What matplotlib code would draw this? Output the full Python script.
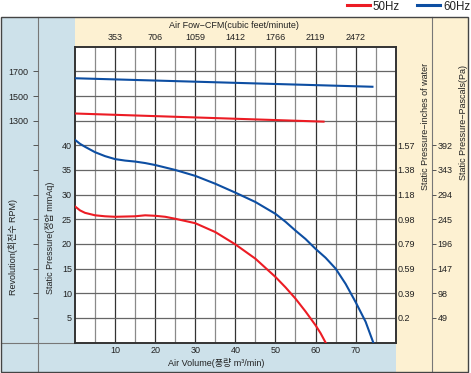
import matplotlib.pyplot as plt
from matplotlib.patches import Rectangle
from matplotlib.lines import Line2D

plt.rcParams['font.family'] = ['Liberation Sans', 'Noto Sans CJK KR']

# static pressure curves (mmAq) vs air volume (m3/min)
vol_50 = [0, 1.25, 2.5, 5, 7.5, 10, 15, 17.5, 20, 22.5, 25, 30, 35, 40, 45, 50,
          52.5, 55, 57.5, 60, 61.25, 62.5]
pres_50 = [27.6, 26.8, 26.3, 25.8, 25.6, 25.5, 25.6, 25.8, 25.7, 25.5, 25.1, 24.2, 22.4,
           19.9, 17.0, 13.3, 11.2, 8.9, 6.3, 3.5, 1.9, 0]
vol_60 = [0, 1.25, 2.5, 5, 7.5, 10, 12.5, 15, 17.5, 20, 25, 30, 35, 40, 45, 50, 52.5,
          55, 57.5, 60, 62.5, 65, 67.5, 70, 72.5, 74.4]
pres_60 = [41.1, 40.3, 39.7, 38.6, 37.8, 37.2, 36.9, 36.7, 36.4, 36.0, 35.0, 33.8, 32.2,
           30.4, 28.5, 26.1, 24.5, 22.7, 21.0, 19.0, 17.2, 15.0, 11.9, 8.2, 4.2, 0]

# revolution (RPM)
rpm_vol_50 = [0, 62]
rpm_50 = [1358, 1292]
rpm_vol_60 = [0, 74.2]
rpm_60 = [1644, 1575]

vol_ticks = [10, 20, 30, 40, 50, 60, 70]
cfm_labels = ['353', '706', '1059', '1412', '1766', '2119', '2472']
mm_ticks = [5, 10, 15, 20, 25, 30, 35, 40]
inch_labels = ['0.2', '0.39', '0.59', '0.79', '0.98', '1.18', '1.38', '1.57']
pa_labels = ['49', '98', '147', '196', '245', '294', '343', '392']
rpm_ticks = [-300, -100, 100, 300, 500, 700, 900, 1100, 1300, 1500, 1700]
rpm_labeled = [1300, 1500, 1700]

RED = '#ec1c24'
BLUE = '#0d4ea2'
LBLUE = '#cde1ea'
BEIGE = '#fdf1d2'
FS = 6.5

W, H = 471, 373
fig = plt.figure(figsize=(W / 100, H / 100), dpi=100)


def fx(px):
    return px / W


def fy(py):
    return 1 - py / H


def rect(x0, y0, x1, y1, color):
    fig.patches.append(Rectangle((fx(x0), fy(y1)), fx(x1) - fx(x0), fy(y0) - fy(y1),
                                 transform=fig.transFigure, facecolor=color,
                                 edgecolor='none', zorder=-5))


def fline(xs, ys, color='#777', lw=0.8):
    fig.add_artist(Line2D([fx(x) for x in xs], [fy(y) for y in ys],
                          transform=fig.transFigure, color=color, lw=lw, zorder=-4))


# background panels
rect(1, 17, 75, 372, LBLUE)
rect(75, 342.5, 396, 372, LBLUE)
rect(75, 17, 396, 46.7, BEIGE)
rect(396, 17, 468, 372, BEIGE)
fline([38, 38], [17, 372])
fline([432.3, 432.3], [17, 372])
fline([1, 75], [342.5, 342.5])
fig.patches.append(Rectangle((fx(1), fy(372)), fx(468) - fx(1), fy(17) - fy(372),
                             transform=fig.transFigure, facecolor='none',
                             edgecolor='#444', lw=1.0, zorder=2))

L, R, T, B = 75, 395.7, 46.7, 342.5
ax = fig.add_axes([fx(L), fy(B), fx(R) - fx(L), fy(T) - fy(B)])
ax.set_xlim(0, 80)
ax.set_ylim(0, 60)
ax.set_facecolor('white')

ax.set_xticks(vol_ticks)
ax.set_xticks([5, 15, 25, 35, 45, 55, 65, 75], minor=True)
ax.set_xticklabels([str(v) for v in vol_ticks])
ax.set_yticks(list(range(5, 60, 5)))
ax.set_yticklabels([str(v) if v in mm_ticks else '' for v in range(5, 60, 5)])
ax.tick_params(axis='both', which='both', length=0, labelsize=FS, colors='#222')
ax.tick_params(axis='x', pad=2.5)
ax.tick_params(axis='y', pad=2.2)
ax.grid(axis='x', which='major', color='#333', lw=0.9)
ax.grid(axis='x', which='minor', color='#8a8a8a', lw=0.9)
ax.grid(axis='y', which='major', color='#666', lw=0.9)
ax.set_axisbelow(True)
for s in ax.spines.values():
    s.set_color('#333')
    s.set_linewidth(1.4)

ax.plot(vol_50, pres_50, color=RED, lw=1.5, zorder=3)
ax.plot(vol_60, pres_60, color=BLUE, lw=1.5, zorder=3)

# revolution axis on the left
ax_rpm = ax.twinx()
ax_rpm.set_ylim(-500, 1900)
ax_rpm.yaxis.set_ticks_position('left')
ax_rpm.yaxis.set_label_position('left')
ax_rpm.spines['left'].set_position(('axes', (38 - L) / (R - L)))
for s in ax_rpm.spines.values():
    s.set_visible(False)
ax_rpm.set_yticks(rpm_ticks)
ax_rpm.set_yticklabels([str(v) if v in rpm_labeled else '' for v in rpm_ticks])
ax_rpm.tick_params(axis='y', length=3.6, width=0.7, color='#555', pad=3.4,
                   labelsize=FS, labelcolor='#222')
ax_rpm.plot(rpm_vol_50, rpm_50, color=RED, lw=1.5)
ax_rpm.plot(rpm_vol_60, rpm_60, color=BLUE, lw=1.5)

# CFM axis on top
ax_top = ax.twiny()
ax_top.set_xlim(0, 80)
ax_top.set_xticks(vol_ticks)
ax_top.set_xticklabels(cfm_labels)
ax_top.tick_params(axis='x', length=0, pad=3.2, labelsize=FS, labelcolor='#222')
for s in ax_top.spines.values():
    s.set_visible(False)

# inches of water axis
ax_in = ax.twinx()
ax_in.set_ylim(0, 60)
ax_in.set_yticks(mm_ticks)
ax_in.set_yticklabels(inch_labels)
ax_in.tick_params(axis='y', length=0, pad=1.5, labelsize=FS, labelcolor='#222')
for s in ax_in.spines.values():
    s.set_visible(False)

# pascal axis
ax_pa = ax.twinx()
ax_pa.set_ylim(0, 60)
ax_pa.spines['right'].set_position(('axes', (432.3 - L) / (R - L)))
for s in ax_pa.spines.values():
    s.set_visible(False)
ax_pa.set_yticks(mm_ticks)
ax_pa.set_yticklabels(pa_labels)
ax_pa.tick_params(axis='y', length=3.0, width=0.7, color='#555', pad=0.8,
                  labelsize=FS, labelcolor='#222')

# axis titles
fig.text(fx(234), fy(25), 'Air Fow\u2212CFM(cubic feet/minute)', ha='center', va='center',
         fontsize=FS, color='#222')
fig.text(fx(216), fy(362.5), 'Air Volume(풍량 m\u00b3/min)', ha='center', va='center',
         fontsize=FS, color='#222')
fig.text(fx(13), fy(295), 'Revolution(회전수 RPM)', rotation=90, ha='center', va='bottom',
         fontsize=FS, color='#222')
fig.text(fx(50), fy(294), 'Static Pressure(정압 mmAq)', rotation=90, ha='center',
         va='bottom', fontsize=FS, color='#222')
fig.text(fx(425.5), fy(63), 'Static Pressure\u2212inches of water', rotation=90,
         ha='center', va='top', fontsize=FS, color='#222')
fig.text(fx(463), fy(65), 'Static Pressure\u2212Pascals(Pa)', rotation=90,
         ha='center', va='top', fontsize=FS, color='#222')

# legend
handles = [Line2D([], [], color=RED, lw=2.2), Line2D([], [], color=BLUE, lw=2.2)]
fig.legend(handles, ['50Hz', '60Hz'], ncol=2, loc='center right',
           bbox_to_anchor=(fx(470), fy(6.5)), frameon=False, fontsize=8.3,
           handlelength=2.0, handletextpad=0.25, columnspacing=1.5,
           borderpad=0, borderaxespad=0, labelcolor='#222')

fig.savefig('out.png', dpi=100, facecolor='white')
